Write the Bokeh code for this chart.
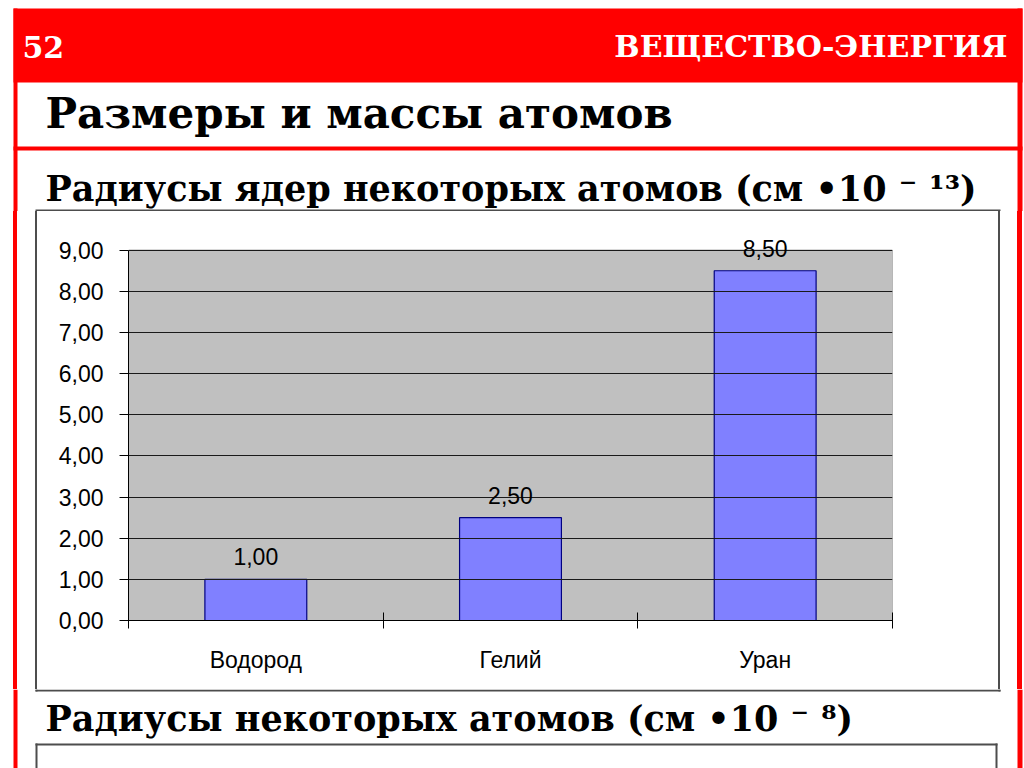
from bokeh.plotting import figure
from bokeh.layouts import column, row
from bokeh.models import (ColumnDataSource, Range1d, LinearAxis,
                          FixedTicker, LabelSet, Grid, Div)
from bokeh.core.properties import value
from bokeh.embed import file_html
from bokeh.resources import INLINE

# ---------------- data ----------------
page_number = "52"
section_name = "ВЕЩЕСТВО-ЭНЕРГИЯ"
topic_title = "Размеры и массы атомов"
chart_title = "Радиусы ядер некоторых атомов (см  •10 ⁻ ¹³)"
next_title = "Радиусы некоторых атомов (см  •10 ⁻ ⁸)"

elements = ["Водород", "Гелий", "Уран"]
radii = [1.00, 2.50, 8.50]
bar_labels = ["1,00", "2,50", "8,50"]
y_ticks = [0, 1, 2, 3, 4, 5, 6, 7, 8, 9]
y_tick_labels = ["0,00", "1,00", "2,00", "3,00", "4,00", "5,00", "6,00", "7,00", "8,00", "9,00"]

# ---------------- styles ----------------
SERIF = "DejaVu Serif"
SANS = "Liberation Sans"
RED = "#FF0000"
BOXLINE = "#4d4d4d"
CHART_FONT = "23px"


def deco(x0, x1, y0, y1):
    """A plain drawing surface whose data units are page pixels (y downwards)."""
    f = figure(width=x1 - x0, height=y1 - y0, x_range=Range1d(x0, x1), y_range=Range1d(y1, y0),
               min_border=0, output_backend="svg", toolbar_location=None,
               x_axis_location=None, y_axis_location=None, outline_line_color=None,
               background_fill_color="white", border_fill_color="white")
    f.xgrid.visible = False
    f.ygrid.visible = False
    return f


def rect(f, l, r, t, b, color):
    f.quad(left=l, right=r, top=t, bottom=b, fill_color=color, line_color=None)


def txt(f, x, y, s, size, color="black", align="left"):
    # y is the wanted baseline; the text glyph sits about 0.35em lower than asked
    f.text(x=[x], y=[y - round(0.35 * size)], text=[s], text_font=value(SERIF),
           text_font_style="bold", text_font_size=value(f"{size}px"), text_color=color,
           text_align=align, text_baseline="alphabetic")


def red_sides(f, t, b):
    rect(f, 13, 17, t, b, RED)
    rect(f, 1017, 1022, t, b, RED)


def strip(x0, x1, h, bars):
    """Plain HTML strip (no text) holding thin vertical rules."""
    inner = "".join(
        f'<div style="position:absolute;left:{l - x0}px;top:0;width:{r - l}px;'
        f'height:{h}px;background:{c};"></div>' for l, r, c in bars)
    html = f'<div style="position:relative;width:{x1 - x0}px;height:{h}px;">{inner}</div>'
    return Div(text=html, width=x1 - x0, height=h, margin=0,
               styles={"overflow": "hidden", "background": "white"})


# ---- top part: header, topic box, chart title, top of chart box ----
top = deco(0, 1024, 0, 211)
rect(top, 13, 1022, 8, 82, RED)
red_sides(top, 8, 211)
rect(top, 13, 1022, 146, 150, RED)
rect(top, 35, 1000, 209, 211, BOXLINE)
txt(top, 22, 56, page_number, 30, color="white")
txt(top, 1007, 56, section_name, 30, color="white", align="right")
txt(top, 45, 128, topic_title, 42)
txt(top, 45, 200, chart_title, 35)

# ---- side strips of the chart band ----
BAND_H = 689 - 211
left = strip(0, 37, BAND_H, [(13, 17, RED), (35, 37, BOXLINE)])
right = strip(998, 1024, BAND_H, [(998, 1000, BOXLINE), (1017, 1022, RED)])

# ---- bottom part ----
bottom = deco(0, 1024, 689, 768)
red_sides(bottom, 689, 768)
rect(bottom, 35, 1000, 689, 691, BOXLINE)
rect(bottom, 35, 37, 689, 691, BOXLINE)
rect(bottom, 998, 1000, 689, 691, BOXLINE)
txt(bottom, 45, 730, next_title, 35)
rect(bottom, 35, 997, 743, 745, BOXLINE)
rect(bottom, 35, 37, 743, 768, BOXLINE)
rect(bottom, 995, 997, 743, 768, BOXLINE)

# ---------------- chart ----------------
n = len(elements)
centers = [i + 0.5 for i in range(n)]
edges = list(range(n + 1))
y_top = y_ticks[-1]
y_view = 9.6  # head-room above the plot area for the value labels

chart = figure(x_range=Range1d(0, n), y_range=Range1d(0, y_view),
               frame_width=764, frame_height=395,
               min_border_left=91, min_border_right=106, min_border_top=14, min_border_bottom=69,
               output_backend="svg", toolbar_location=None,
               x_axis_location=None, y_axis_location=None,
               background_fill_color="white", border_fill_color="white",
               outline_line_color=None)
chart.xgrid.visible = False
chart.ygrid.visible = False

# plot area (grey wall)
chart.quad(left=[0], right=[n], bottom=[0], top=[y_top],
           fill_color="#C0C0C0", line_color="#808080", line_width=1)
chart.add_layout(Grid(dimension=1, ticker=FixedTicker(ticks=y_ticks),
                      grid_line_color="#1a1a1a", grid_line_width=1, level="glyph"))

src = ColumnDataSource(dict(x=centers, element=elements, radius=radii, label=bar_labels))
chart.vbar(x="x", top="radius", width=0.4, source=src,
           fill_color="#8080FF", line_color="#000080", line_width=1.2)

chart.add_layout(LabelSet(x="x", y="radius", text="label", source=src,
                          text_align="center", text_baseline="alphabetic", y_offset=14,
                          text_font=value(SANS), text_font_size=value(CHART_FONT),
                          text_color="black"))

tick_axis = LinearAxis(ticker=FixedTicker(ticks=edges),
                       major_label_overrides={e: "" for e in edges},
                       major_label_standoff=0,
                       major_tick_in=8, major_tick_out=8, minor_tick_line_color=None,
                       axis_line_color="black", major_tick_line_color="black")
chart.add_layout(tick_axis, "below")

cat_axis = LinearAxis(ticker=FixedTicker(ticks=centers),
                      major_label_overrides={c: e for c, e in zip(centers, elements)},
                      major_tick_line_color=None, minor_tick_line_color=None, axis_line_color=None,
                      major_label_text_font=SANS, major_label_text_font_size=CHART_FONT,
                      major_label_text_color="black", major_label_standoff=12)
chart.add_layout(cat_axis, "below")

y_axis = LinearAxis(ticker=FixedTicker(ticks=y_ticks), bounds=(0, y_top),
                    major_label_overrides={t: s for t, s in zip(y_ticks, y_tick_labels)},
                    major_tick_in=0, major_tick_out=9, minor_tick_line_color=None,
                    major_label_standoff=16, axis_line_color="black",
                    major_tick_line_color="black",
                    major_label_text_font=SANS, major_label_text_font_size=CHART_FONT,
                    major_label_text_color="black")
chart.add_layout(y_axis, "left")

page = column(top, row(left, chart, right, spacing=0), bottom, spacing=0)

open("out.html", "w").write(file_html(page, INLINE))
